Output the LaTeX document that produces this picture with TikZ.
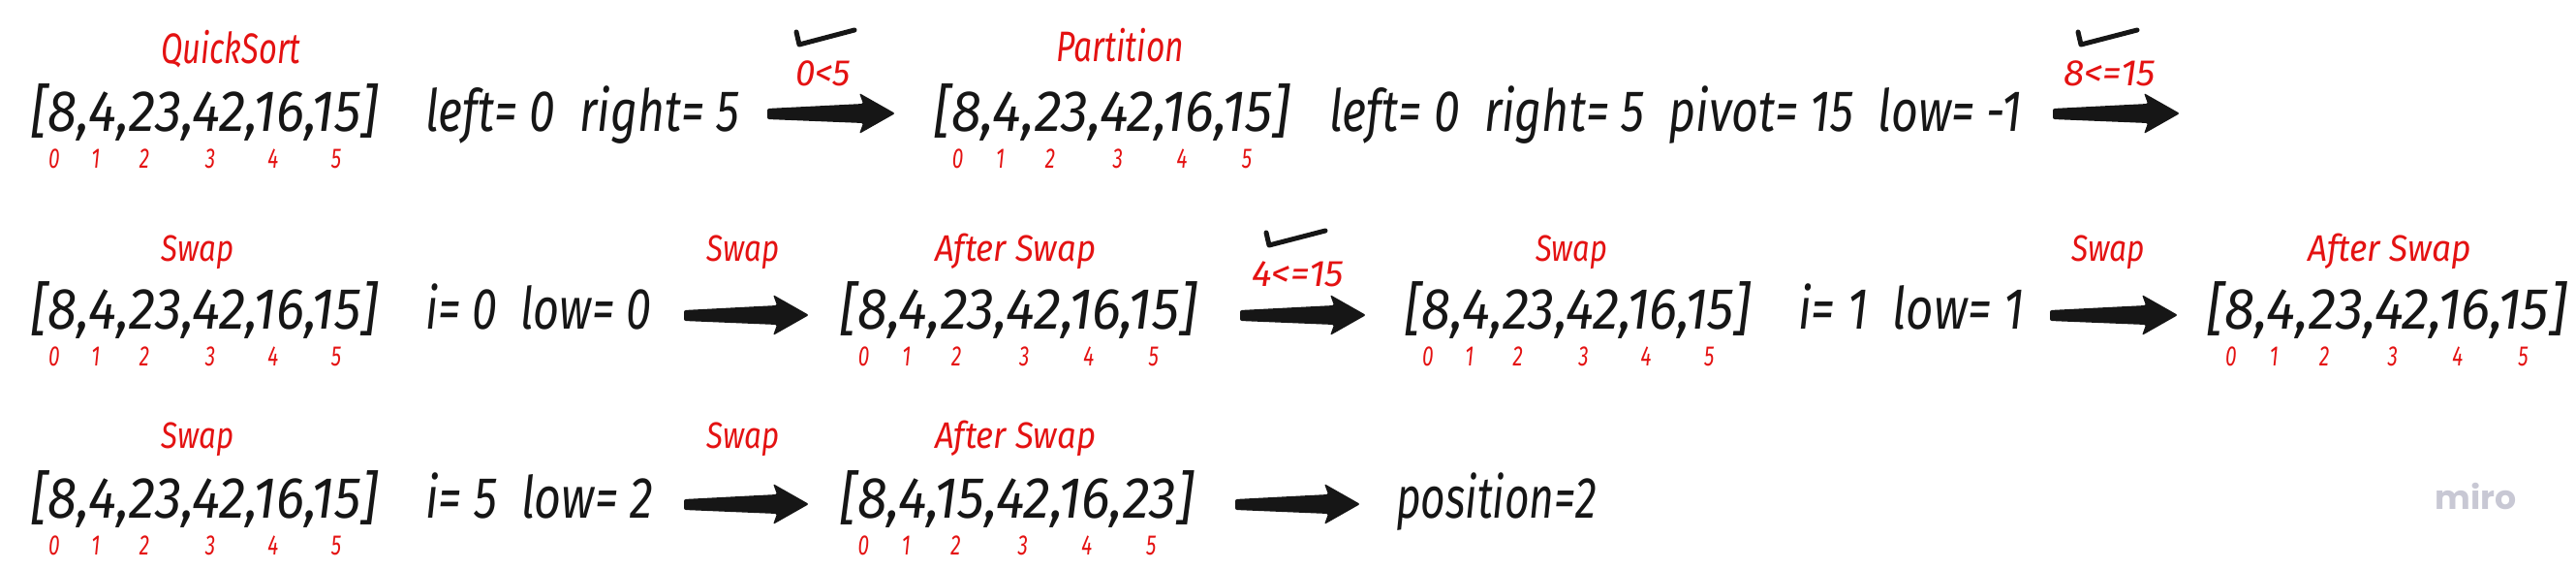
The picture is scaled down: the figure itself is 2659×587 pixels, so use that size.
\documentclass[tikz,border=0pt]{standalone}
\usepackage{fontspec}
\setmainfont{Fira Sans}
\newfontfamily\mirofont{Poppins}
\definecolor{hred}{RGB}{228,18,18}
\definecolor{hblack}{RGB}{22,22,22}
\definecolor{mirogray}{RGB}{200,200,212}
\tikzset{
 big/.style={font=\fontsize{60}{66}\selectfont\itshape, text=hblack, inner sep=0pt, anchor=base west},
 lab/.style={font=\fontsize{44}{48}\selectfont\itshape, text=hred, inner sep=0pt, anchor=base west},
 swp/.style={font=\fontsize{38}{44}\selectfont\itshape, text=hred, inner sep=0pt, anchor=base west},
 cond/.style={font=\fontsize{38}{44}\selectfont\itshape, text=hred, inner sep=0pt, anchor=base west},
 idx/.style={font=\fontsize{29}{34}\selectfont\itshape, text=hred, inner sep=0pt, anchor=base},
 arrowfill/.style={fill=hblack, rounded corners=2pt},
 tick/.style={draw=hblack, line width=5pt, line cap=round, line join=round},
}
\newcommand\W[2]{\resizebox{#1pt}{\height}{#2}}
\newcommand\arrnode[6]{%
 \node[big] (#1) at (#2,#4) {\W{#3}{#6}};
 \foreach \f [count=\i from 0] in {0.067,0.187,0.327,0.517,0.698,0.880}
   \node[idx] (#1-\i) at ({#2+\f*#3},#5) {\scalebox{0.72}[1]{\i}};
}
\newcommand\bigarrow[2]{%
 \fill[arrowfill,shift={(#1)}] (0,-5) -- ({#2-33},-10) -- ({#2-37},-21) -- (#2,0) -- ({#2-37},21) -- ({#2-33},10) -- (0,6) -- cycle;}
\begin{document}
\begin{tikzpicture}[x=1pt,y=-1pt]
\fill[white] (0,0) rectangle (2659,587);
\useasboundingbox (0,0) rectangle (2659,587);
% ---------- Row 1
\node[lab] (qs) at (166,65) {\W{144}{QuickSort}};
\arrnode{a1}{32}{358}{135}{173}{[8,4,23,42,16,15]}
\node[big] (t1) at (439,135) {\W{324}{left= 0\ \ right= 5}};
\draw[tick] (822,33) -- (825,46) -- (882,31);
\node[cond] (c1) at (821,88) {\W{57}{0<5}};
\coordinate (s1) at (792,117); \coordinate (e1) at (924,117);
\bigarrow{s1}{132}
\node[lab] (pt) at (1090,63) {\W{132}{Partition}};
\arrnode{a2}{964}{367}{135}{173}{[8,4,23,42,16,15]}
\node[big] (t2) at (1372,135) {\W{715}{left= 0\ \ right= 5\ \ pivot= 15\ \ low= -1}};
\draw[tick] (2145,33) -- (2148,46) -- (2206,31);
\node[cond] (c2) at (2130,88) {\W{95}{8<=15}};
\coordinate (s2) at (2119,117); \coordinate (e2) at (2250,117);
\bigarrow{s2}{131}
% ---------- Row 2
\node[swp] (sw1) at (166,269) {\W{75}{Swap}};
\arrnode{a3}{32}{358}{339}{377}{[8,4,23,42,16,15]}
\node[big] (t3) at (439,339) {\W{233}{i= 0\ \ low= 0}};
\node[swp] (sw2) at (729,269) {\W{75}{Swap}};
\coordinate (s3) at (706,325); \coordinate (e3) at (835,325);
\bigarrow{s3}{129}
\node[swp] (as1) at (965,269) {\W{166}{After Swap}};
\arrnode{a4}{867}{368}{339}{377}{[8,4,23,42,16,15]}
\draw[tick] (1307,240) -- (1310,253) -- (1368,238);
\node[cond] (c3) at (1292,295) {\W{95}{4<=15}};
\coordinate (s4) at (1280,325); \coordinate (e4) at (1410,325);
\bigarrow{s4}{130}
\node[swp] (sw3) at (1585,269) {\W{74}{Swap}};
\arrnode{a5}{1450}{357}{339}{377}{[8,4,23,42,16,15]}
\node[big] (t4) at (1856,339) {\W{233}{i= 1\ \ low= 1}};
\coordinate (s5) at (2116,325); \coordinate (e5) at (2248,325);
\bigarrow{s5}{132}
\node[swp] (sw4) at (2138,269) {\W{76}{Swap}};
\node[swp] (as2) at (2382,269) {\W{169}{After Swap}};
\arrnode{a6}{2278}{371}{339}{377}{[8,4,23,42,16,15]}
% ---------- Row 3
\node[swp] (sw5) at (166,462) {\W{75}{Swap}};
\arrnode{a7}{32}{358}{534}{572}{[8,4,23,42,16,15]}
\node[big] (t5) at (439,534) {\W{235}{i= 5\ \ low= 2}};
\node[swp] (sw6) at (729,462) {\W{75}{Swap}};
\coordinate (s6) at (706,520); \coordinate (e6) at (835,520);
\bigarrow{s6}{129}
\node[swp] (as3) at (965,462) {\W{166}{After Swap}};
\arrnode{a8}{867}{365}{534}{572}{[8,4,15,42,16,23]}
\coordinate (s7) at (1275,520); \coordinate (e7) at (1404,520);
\bigarrow{s7}{129}
\node[big] (pos) at (1441,534) {\W{207}{position=2}};
\node[font=\mirofont\bfseries\fontsize{34}{40}\selectfont, text=mirogray, inner sep=0pt, anchor=base west] (miro) at (2513,525) {\W{84}{miro}};
\end{tikzpicture}
\end{document}
